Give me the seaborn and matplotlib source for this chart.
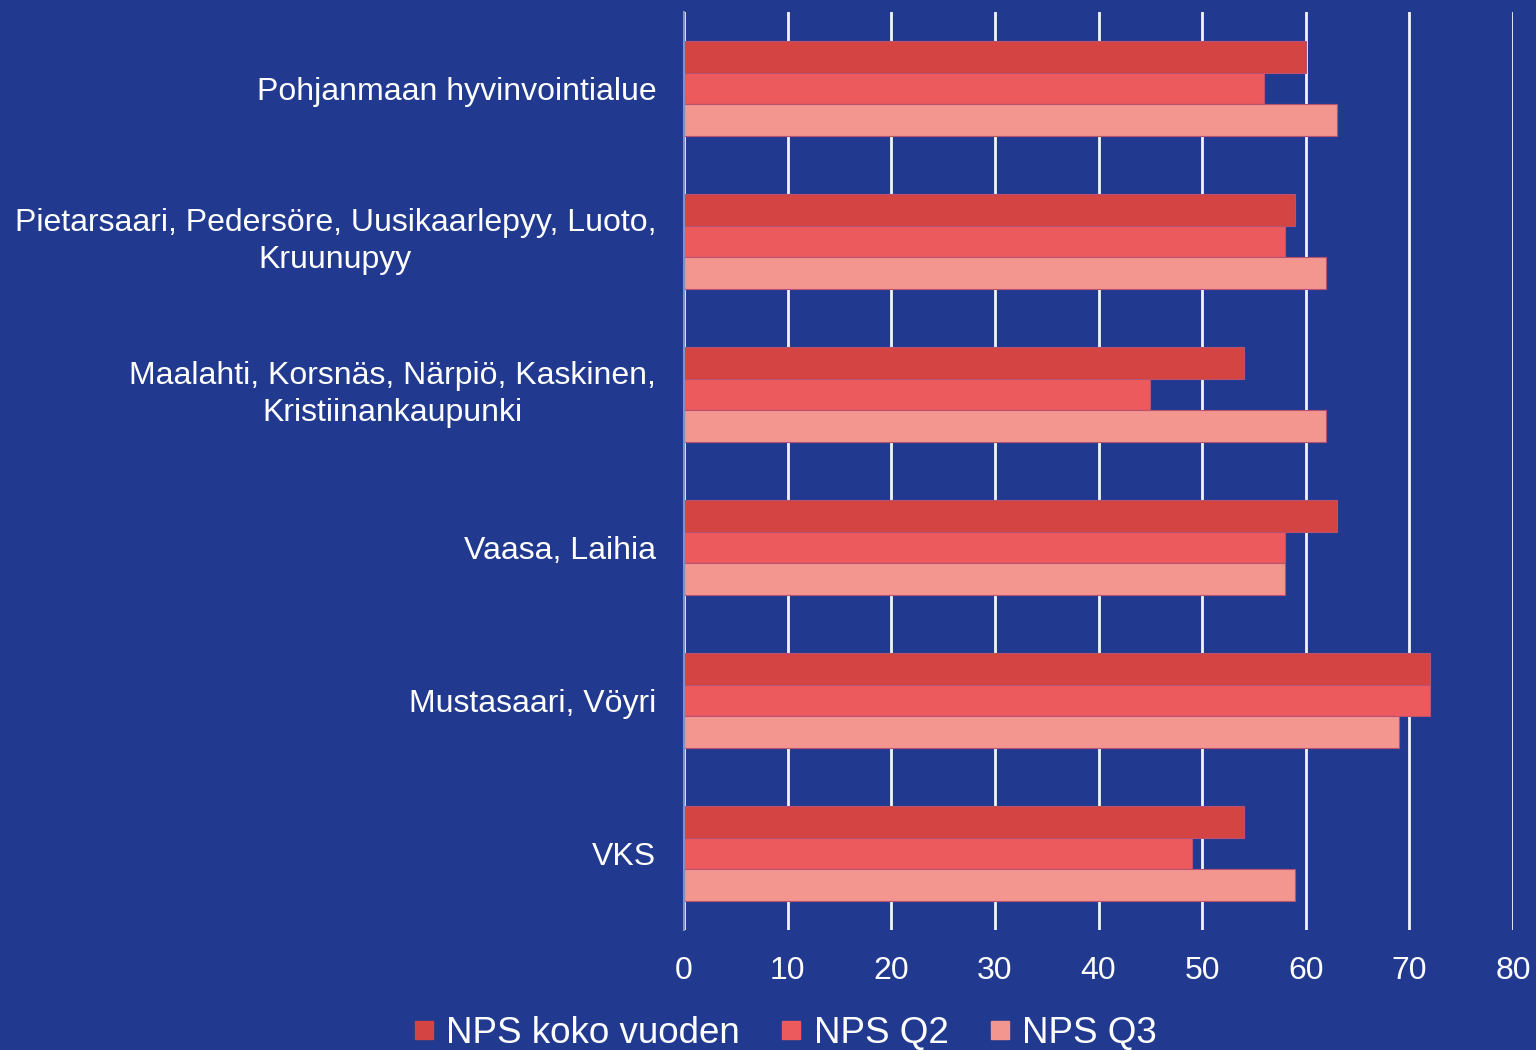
import matplotlib
matplotlib.use("Agg")
import matplotlib.pyplot as plt
from matplotlib.lines import Line2D
import seaborn as sns
import pandas as pd

categories = [
    "Pohjanmaan hyvinvointialue",
    "Pietarsaari, Pedersöre, Uusikaarlepyy, Luoto,\nKruunupyy",
    "Maalahti, Korsnäs, Närpiö, Kaskinen,\nKristiinankaupunki",
    "Vaasa, Laihia",
    "Mustasaari, Vöyri",
    "VKS",
]
series_names = ["NPS koko vuoden", "NPS Q2", "NPS Q3"]
nps_koko = [60, 59, 54, 63, 72, 54]
nps_q2 = [56, 58, 45, 58, 72, 49]
nps_q3 = [63, 62, 62, 58, 69, 59]
x_ticks = [0, 10, 20, 30, 40, 50, 60, 70, 80]

colors = ["#D44442", "#EC5A5E", "#F3968F"]
bg = "#213A8F"

rows = []
for name, vals in zip(series_names, [nps_koko, nps_q2, nps_q3]):
    for c, v in zip(categories, vals):
        rows.append({"cat": c, "series": name, "value": v})
df = pd.DataFrame(rows)

sns.set_theme(style="white")
plt.rcParams["font.family"] = ["Liberation Sans", "DejaVu Sans"]

fig = plt.figure(figsize=(15.36, 10.5), dpi=100, facecolor=bg)
ax = fig.add_axes([684 / 1536, 1 - 930 / 1050, (1513 - 684) / 1536, (930 - 12) / 1050])
ax.set_facecolor(bg)

sns.barplot(data=df, y="cat", x="value", hue="series", order=categories,
            hue_order=series_names, palette=colors, orient="h", width=0.62,
            ax=ax, legend=False, edgecolor="#B85272", linewidth=0.8, saturation=1)

ax.set_xlim(0, 80)
ax.set_ylim(5.5, -0.5)
ax.set_xticks(x_ticks)
ax.set_xticklabels([str(t) for t in x_ticks])
ax.xaxis.grid(True, color="white", linewidth=2, alpha=0.95)
ax.set_axisbelow(True)
for s in ["top", "right", "bottom"]:
    ax.spines[s].set_visible(False)
ax.spines["left"].set_color("#8090C0")
ax.spines["left"].set_linewidth(1.5)
ax.set_xlabel("")
ax.set_ylabel("")
ax.tick_params(axis="x", colors="white", labelsize=23, length=0, pad=19)
ax.tick_params(axis="y", colors="white", labelsize=23, length=0, pad=20)
for lbl in ax.get_yticklabels():
    lbl.set_multialignment("center")
    lbl.set_linespacing(1.32)
    if "\n" in lbl.get_text():
        lbl.set_verticalalignment("center")

handles = [Line2D([0], [0], marker="s", linestyle="none", markersize=13,
                  markerfacecolor=c, markeredgecolor=c) for c in colors]
leg = fig.legend(handles, series_names, loc="center", bbox_to_anchor=(0.511, 0.016),
                 ncol=3, frameon=False, fontsize=26.5, handlelength=0.6,
                 handletextpad=0.3, columnspacing=1.1, labelcolor="white")

fig.savefig("out.png", dpi=100, facecolor=bg)
